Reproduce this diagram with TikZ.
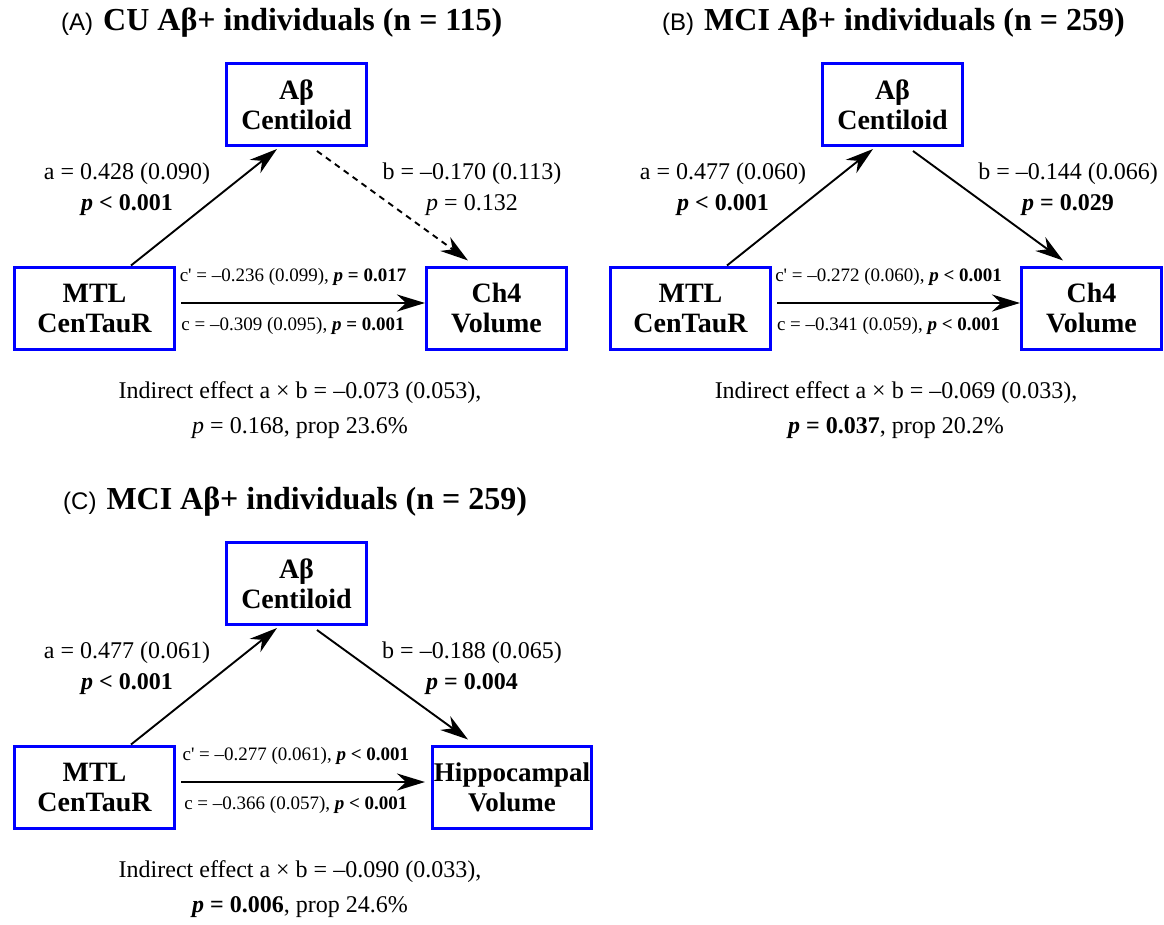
\documentclass[tikz,border=0pt]{standalone}
\usepackage{fontspec}
\setmainfont{Liberation Serif}
\setsansfont{Liberation Sans}
\usetikzlibrary{arrows.meta}

\begin{document}
\begin{tikzpicture}[x=1pt,y=-1pt,
  var/.style={draw=blue,line width=3pt,align=center,inner sep=2pt,minimum width=140pt,minimum height=82pt,font=\fontsize{28}{30}\selectfont\bfseries},
  eff/.style={-{Stealth[length=28pt,width=17pt,inset=9pt]},line width=1.9pt},
  direct/.style={eff,line width=2.7pt},
  coef/.style={align=center,inner sep=0pt,font=\fontsize{24}{31}\selectfont},
  ind/.style={align=center,inner sep=0pt,font=\fontsize{24}{35}\selectfont},
  clab/.style={inner sep=0pt,font=\fontsize{19}{21}\selectfont},
  ttl/.style={anchor=west,inner sep=0pt}]
\useasboundingbox (0,0) rectangle (1164,924);

% (A) CU
\node[ttl] (tA) at (61,23) {{\sffamily\fontsize{24}{26}\selectfont(A)}\hspace{10pt}{\fontsize{32}{34}\selectfont\bfseries CU Aβ+ individuals (n = 115)}};
\node[var] (abA) at (296.5,104.5) {Aβ\\Centiloid};
\node[var,minimum width=160pt] (mtlA) at (94.5,308) {MTL\\CenTauR};
\node[var] (chA) at (496.5,308) {Ch4\\Volume};
\draw[eff] ([xshift=36.5pt]mtlA.north) -- ([xshift=-19.5pt,yshift=-2pt]abA.south);
\draw[eff,dash pattern=on 6pt off 5pt] ([xshift=20.5pt,yshift=-4pt]abA.south) -- ([xshift=-28.5pt,yshift=5pt]chA.north);
\draw[direct,shorten <=5pt] ([yshift=5pt]mtlA.east) -- ([yshift=5pt]chA.west)
  node[clab,pos=.47,above=16pt] (cpA) {c\textquotesingle{} = –0.236 (0.099), \textbf{\textit{p} = 0.017}}
  node[clab,pos=.47,below=12.5pt] (cA) {c = –0.309 (0.095), \textbf{\textit{p} = 0.001}};
\node[coef] (aA) at (127,189) {a = 0.428 (0.090)\\\textbf{\textit{p} < 0.001}};
\node[coef] (bA) at (472,189) {b = –0.170 (0.113)\\\textit{p} = 0.132};
\node[ind] (indA) at (300,410) {Indirect effect a × b = –0.073 (0.053),\\\textit{p} = 0.168, prop 23.6\%};

% (B) MCI, Ch4
\begin{scope}[xshift=596pt]
\node[ttl] (tB) at (66,23) {{\sffamily\fontsize{24}{26}\selectfont(B)}\hspace{10pt}{\fontsize{32}{34}\selectfont\bfseries MCI Aβ+ individuals (n = 259)}};
\node[var] (abB) at (296.5,104.5) {Aβ\\Centiloid};
\node[var,minimum width=160pt] (mtlB) at (94.5,308) {MTL\\CenTauR};
\node[var] (chB) at (495.5,308) {Ch4\\Volume};
\draw[eff] ([xshift=36.5pt]mtlB.north) -- ([xshift=-19.5pt,yshift=-2pt]abB.south);
\draw[eff] ([xshift=20.5pt,yshift=-4pt]abB.south) -- ([xshift=-28.5pt,yshift=5pt]chB.north);
\draw[direct,shorten <=5pt] ([yshift=5pt]mtlB.east) -- ([yshift=5pt]chB.west)
  node[clab,pos=.47,above=16pt] (cpB) {c\textquotesingle{} = –0.272 (0.060), \textbf{\textit{p} < 0.001}}
  node[clab,pos=.47,below=12.5pt] (cB) {c = –0.341 (0.059), \textbf{\textit{p} < 0.001}};
\node[coef] (aB) at (127,189) {a = 0.477 (0.060)\\\textbf{\textit{p} < 0.001}};
\node[coef] (bB) at (472,189) {b = –0.144 (0.066)\\\textbf{\textit{p} = 0.029}};
\node[ind] (indB) at (300,410) {Indirect effect a × b = –0.069 (0.033),\\\textbf{\textit{p} = 0.037}, prop 20.2\%};
\end{scope}

% (C) MCI, hippocampus
\begin{scope}[yshift=-479pt]
\node[ttl] (tC) at (63,23) {{\sffamily\fontsize{24}{26}\selectfont(C)}\hspace{10pt}{\fontsize{32}{34}\selectfont\bfseries MCI Aβ+ individuals (n = 259)}};
\node[var] (abC) at (296.5,104.5) {Aβ\\Centiloid};
\node[var,minimum width=160pt] (mtlC) at (94.5,308) {MTL\\CenTauR};
\node[var,minimum width=159pt,inner sep=0pt,font=\fontsize{27}{30}\selectfont\bfseries] (hipC) at (512,308) {Hippocampal\\Volume};
\draw[eff] ([xshift=36.5pt]mtlC.north) -- ([xshift=-19.5pt,yshift=-2pt]abC.south);
\draw[eff] ([xshift=20.5pt,yshift=-4pt]abC.south) -- ([xshift=-44pt,yshift=5pt]hipC.north);
\draw[direct,shorten <=5pt,shorten >=6pt] ([yshift=5pt]mtlC.east) -- ([yshift=5pt]hipC.west)
  node[clab,pos=.47,above=16pt] (cpC) {c\textquotesingle{} = –0.277 (0.061), \textbf{\textit{p} < 0.001}}
  node[clab,pos=.47,below=12.5pt] (cC) {c = –0.366 (0.057), \textbf{\textit{p} < 0.001}};
\node[coef] (aC) at (127,189) {a = 0.477 (0.061)\\\textbf{\textit{p} < 0.001}};
\node[coef] (bC) at (472,189) {b = –0.188 (0.065)\\\textbf{\textit{p} = 0.004}};
\node[ind] (indC) at (300,410) {Indirect effect a × b = –0.090 (0.033),\\\textbf{\textit{p} = 0.006}, prop 24.6\%};
\end{scope}
\end{tikzpicture}
\end{document}
